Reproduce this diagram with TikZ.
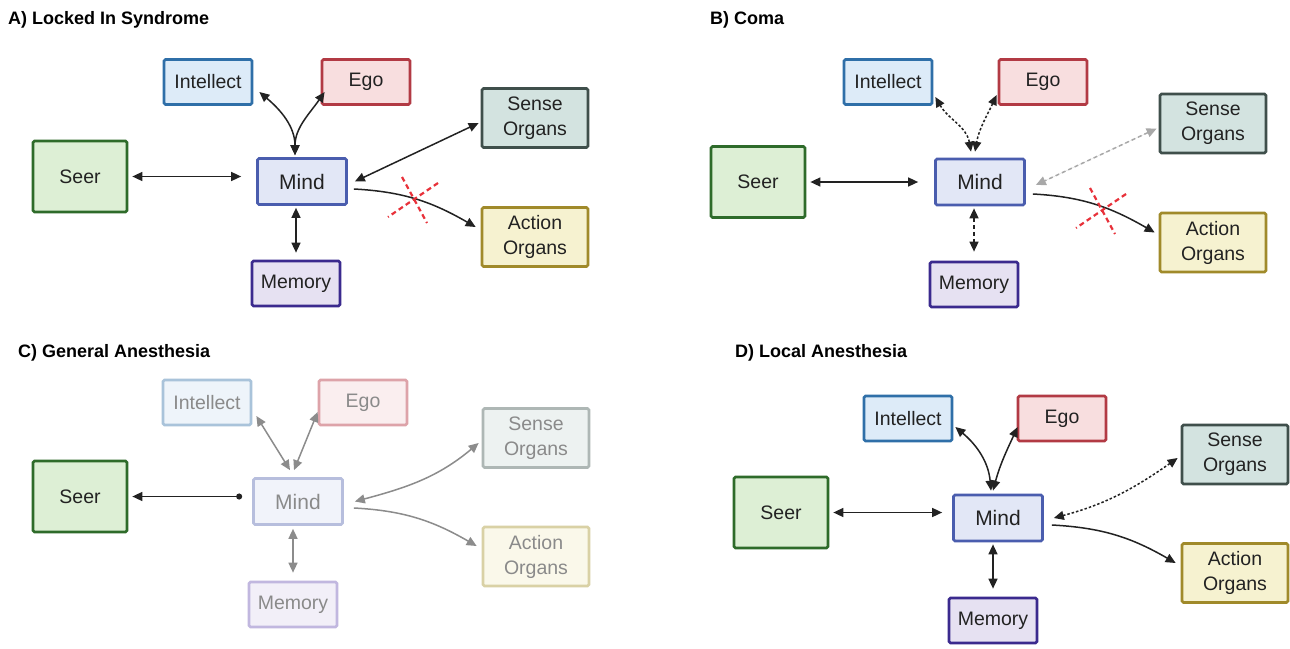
\documentclass[tikz,border=0pt]{standalone}
\usepackage{fontspec}
\setmainfont{Liberation Sans}
\usetikzlibrary{arrows.meta}
\definecolor{intB}{HTML}{2F6FA8}\definecolor{intF}{HTML}{DDEBF8}
\definecolor{egoB}{HTML}{B23A44}\definecolor{egoF}{HTML}{F8DEDF}
\definecolor{senB}{HTML}{3F4F4B}\definecolor{senF}{HTML}{D3E3E0}
\definecolor{seeB}{HTML}{2E6B2A}\definecolor{seeF}{HTML}{DDEFD5}
\definecolor{minB}{HTML}{4A5DAE}\definecolor{minF}{HTML}{E2E7F6}
\definecolor{actB}{HTML}{A08A2A}\definecolor{actF}{HTML}{F6F2D0}
\definecolor{memB}{HTML}{3B2A8E}\definecolor{memF}{HTML}{E6E1F2}
% faded
\definecolor{fintB}{HTML}{A9C3DA}\definecolor{fintF}{HTML}{EEF4FA}
\definecolor{fegoB}{HTML}{DDA3A9}\definecolor{fegoF}{HTML}{FAEEEF}
\definecolor{fsenB}{HTML}{AEB7B5}\definecolor{fsenF}{HTML}{EDF2F1}
\definecolor{fminB}{HTML}{B7BEDD}\definecolor{fminF}{HTML}{F1F3FA}
\definecolor{factB}{HTML}{D9D1A5}\definecolor{factF}{HTML}{FAF8EA}
\definecolor{fmemB}{HTML}{C1B7DF}\definecolor{fmemF}{HTML}{F2EFF8}
\definecolor{redx}{HTML}{E8313A}
\definecolor{ink}{HTML}{222222}
\definecolor{fadeink}{HTML}{8A8A8A}
\definecolor{fadearrow}{HTML}{8C8C8C}
\definecolor{lightarrow}{HTML}{A8A8A8}
\begin{document}
\begin{tikzpicture}[x=1pt,y=-1pt,
  box/.style={draw, line width=2.7pt, rounded corners=1.5pt, inner sep=0pt, align=center, text=ink,
    font=\fontsize{19.5}{25}\selectfont},
  smallbox/.style={box, minimum width=88pt, minimum height=45pt},
  mindbox/.style={box, minimum width=89pt, minimum height=46pt, font=\fontsize{21}{24}\selectfont},
  bigbox/.style={box, minimum width=106pt, minimum height=59pt},
  seerbox/.style={box, minimum width=94pt, minimum height=71pt},
  faded/.style={text=fadeink},
  title/.style={anchor=west, inner sep=0pt, font=\fontsize{18}{21}\selectfont\bfseries},
  con/.style={line width=1.5pt, draw=ink},
  bi/.style={con, {Triangle[length=10pt,width=9pt]}-{Triangle[length=10pt,width=9pt]}},
  one/.style={con, -{Triangle[length=10pt,width=9pt]}},
  dotline/.style={dash pattern=on 2.5pt off 2pt},
  dashline/.style={dash pattern=on 4pt off 3pt},
  redmark/.style={draw=redx, line width=2.2pt, dash pattern=on 5pt off 3.5pt}
]
\useasboundingbox[fill=white] (0,0) rectangle (1290,648);

%% ---------------- Panel A ----------------
\node[title] (A-t) at (8,20) {A) Locked In Syndrome};
\node[smallbox, draw=intB, fill=intF] (A-int) at (208,82) {Intellect};
\node[smallbox, draw=egoB, fill=egoF] (A-ego) at (366,82) {Ego};
\node[bigbox, draw=senB, fill=senF] (A-sen) at (535,118) {Sense\\Organs};
\node[seerbox, draw=seeB, fill=seeF] (A-see) at (80,176.5) {Seer};
\node[mindbox, draw=minB, fill=minF] (A-min) at (302,181.5) {Mind};
\node[bigbox, draw=actB, fill=actF] (A-act) at (535,237) {Action\\Organs};
\node[smallbox, draw=memB, fill=memF] (A-mem) at (296,283.5) {Memory};

\draw[bi, shorten <=4pt, shorten >=15pt] (A-see.east) -- (A-see.east -| A-min.west);
\draw[bi] ([xshift=6pt,yshift=-10pt]A-int.east) to[out=-40,in=90] ([xshift=-7pt,yshift=2pt]A-min.north);
\draw[bi] ([xshift=4pt,yshift=-10pt]A-ego.west) to[out=-125,in=90] ([xshift=-7pt,yshift=2pt]A-min.north);
\draw[bi] ([xshift=-2pt,yshift=-5pt]A-sen.west) -- ([xshift=7pt]A-min.east);
\draw[one] ([xshift=6pt,yshift=-7.5pt]A-min.east) to[out=-3,in=150] ([xshift=-5pt,yshift=10pt]A-act.west);
\draw[bi] ([yshift=-2pt]A-min.south -| A-mem.north) -- ([yshift=7pt]A-mem.north);
\coordinate (A-x) at (414,200);
\draw[redmark] (A-x) ++(-12,-23) -- ++(25,46);
\draw[redmark] (A-x) ++(24,-17) -- ++(-50,34);

%% ---------------- Panel B ----------------
\node[title] (B-t) at (710,20) {B) Coma};
\node[smallbox, draw=intB, fill=intF] (B-int) at (888,82) {Intellect};
\node[smallbox, draw=egoB, fill=egoF] (B-ego) at (1043,82) {Ego};
\node[bigbox, draw=senB, fill=senF] (B-sen) at (1213,123.5) {Sense\\Organs};
\node[seerbox, draw=seeB, fill=seeF] (B-see) at (758,182) {Seer};
\node[mindbox, draw=minB, fill=minF] (B-min) at (980,182) {Mind};
\node[bigbox, draw=actB, fill=actF] (B-act) at (1213,242.5) {Action\\Organs};
\node[smallbox, draw=memB, fill=memF] (B-mem) at (974,284.5) {Memory};

\draw[bi, shorten <=4pt, shorten >=16pt] (B-see.east) -- (B-see.east -| B-min.west);
\draw[bi, dotline] ([xshift=2pt,yshift=-15pt]B-int.east) to[out=-60,in=100] ([xshift=-9pt,yshift=6pt]B-min.north);
\draw[bi, dotline] ([xshift=-1pt,yshift=-13pt]B-ego.west) to[out=-115,in=80] ([xshift=-5pt,yshift=6pt]B-min.north);
\draw[bi, dashline, draw=lightarrow, fill=lightarrow]
  ([xshift=-2pt,yshift=-5pt]B-sen.west) -- ([xshift=10pt,yshift=-3pt]B-min.east);
\draw[one] ([xshift=7pt,yshift=-12pt]B-min.east) to[out=-3,in=150] ([xshift=-4pt,yshift=10pt]B-act.west);
\draw[bi, dashline] ([yshift=-2pt]B-min.south -| B-mem.north) -- ([yshift=9pt]B-mem.north);
\coordinate (B-x) at (1102,211);
\draw[redmark] (B-x) ++(-12,-23) -- ++(25,46);
\draw[redmark] (B-x) ++(24,-17) -- ++(-50,34);

%% ---------------- Panel C ----------------
\node[title] (C-t) at (18,353) {C) General Anesthesia};
\node[smallbox, faded, draw=fintB, fill=fintF] (C-int) at (207,402.5) {Intellect};
\node[smallbox, faded, draw=fegoB, fill=fegoF] (C-ego) at (363,402.5) {Ego};
\node[bigbox, faded, draw=fsenB, fill=fsenF] (C-sen) at (536,438) {Sense\\Organs};
\node[seerbox, draw=seeB, fill=seeF] (C-see) at (80,496.5) {Seer};
\node[mindbox, faded, draw=fminB, fill=fminF] (C-min) at (298,501.5) {Mind};
\node[bigbox, faded, draw=factB, fill=factF] (C-act) at (536,556.5) {Action\\Organs};
\node[smallbox, faded, draw=fmemB, fill=fmemF] (C-mem) at (293,604.5) {Memory};

\draw[con, {Circle[length=6pt]}-{Triangle[length=10pt,width=9pt]}] ([xshift=-10pt]C-min.west |- C-see.east) -- ([xshift=4pt]C-see.east);
\draw[bi, draw=fadearrow] ([xshift=4pt,yshift=-13.5pt]C-int.east) -- ([xshift=-8pt,yshift=7pt]C-min.north);
\draw[bi, draw=fadearrow] ([yshift=-9.5pt]C-ego.west) -- ([xshift=-4pt,yshift=7pt]C-min.north);
\draw[bi, draw=fadearrow] ([xshift=-3pt,yshift=-5pt]C-sen.west) to[out=-140,in=15] ([xshift=11pt]C-min.east);
\draw[one, draw=fadearrow] ([xshift=10pt,yshift=-6.5pt]C-min.east) to[out=-3,in=150] ([xshift=-5pt,yshift=10.5pt]C-act.west);
\draw[bi, draw=fadearrow] ([yshift=-3pt]C-min.south -| C-mem.north) -- ([yshift=8pt]C-mem.north);

%% ---------------- Panel D ----------------
\node[title] (D-t) at (735,353) {D) Local Anesthesia};
\node[smallbox, draw=intB, fill=intF] (D-int) at (908,418.5) {Intellect};
\node[smallbox, draw=egoB, fill=egoF] (D-ego) at (1062,418.5) {Ego};
\node[bigbox, draw=senB, fill=senF] (D-sen) at (1235,454.5) {Sense\\Organs};
\node[seerbox, draw=seeB, fill=seeF] (D-see) at (781,512.5) {Seer};
\node[mindbox, draw=minB, fill=minF] (D-min) at (998,518) {Mind};
\node[bigbox, draw=actB, fill=actF] (D-act) at (1235,573) {Action\\Organs};
\node[smallbox, draw=memB, fill=memF] (D-mem) at (993,620.5) {Memory};

\draw[bi, shorten <=4pt, shorten >=10pt] (D-see.east) -- (D-see.east -| D-min.west);
\draw[bi] ([xshift=2pt,yshift=-8.5pt]D-int.east) to[out=-40,in=95] ([xshift=-7pt,yshift=3pt]D-min.north);
\draw[bi] ([xshift=1pt,yshift=-8.5pt]D-ego.west) to[out=-115,in=75] ([xshift=-5pt,yshift=3pt]D-min.north);
\draw[bi, dotline] ([xshift=-3pt,yshift=-3.5pt]D-sen.west) to[out=-145,in=15] ([xshift=10pt]D-min.east);
\draw[one] ([xshift=8pt,yshift=-7pt]D-min.east) to[out=-3,in=150] ([xshift=-5pt,yshift=10pt]D-act.west);
\draw[bi] ([yshift=-2pt]D-min.south -| D-mem.north) -- ([yshift=8pt]D-mem.north);
\end{tikzpicture}
\end{document}
